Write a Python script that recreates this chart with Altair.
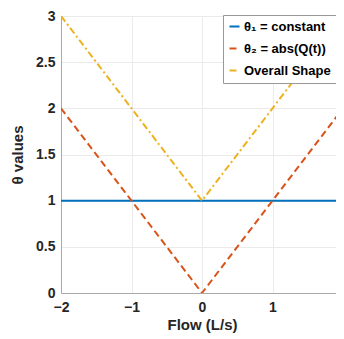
import altair as alt
import pandas as pd

flow = [-2, 0, 2]
theta1 = [1, 1, 1]
theta2 = [2, 0, 2]
overall = [3, 1, 3]
series = ["θ₁ = constant", "θ₂ = abs(Q(t))", "Overall Shape"]
colors = ["#0072BD", "#D95319", "#EDB120"]
dashes = [[1, 0], [7, 4], [7, 3, 2, 3]]

rows = []
for name, vals in zip(series, [theta1, theta2, overall]):
    for x, y in zip(flow, vals):
        rows.append({"Flow": x, "value": y, "series": name})
df = pd.DataFrame(rows)

font = "Liberation Sans"

chart = alt.Chart(df).mark_line(strokeWidth=2, clip=True).encode(
    x=alt.X("Flow:Q", scale=alt.Scale(domain=[-2, 2], nice=False, range=[0, 282]),
            axis=alt.Axis(title="Flow (L/s)", values=[-2, -1, 0, 1, 2], format="d",
                          labelFlush=False, labelPadding=7, titlePadding=3)),
    y=alt.Y("value:Q", scale=alt.Scale(domain=[0, 3], nice=False),
            axis=alt.Axis(title="θ values", values=[0, 0.5, 1, 1.5, 2, 2.5, 3],
                          format="~g", labelFlush=False, labelPadding=6, titlePadding=10)),
    color=alt.Color("series:N", sort=series,
                    scale=alt.Scale(domain=series, range=colors),
                    legend=alt.Legend(title=None, orient="none", legendX=162, legendY=-1,
                                      symbolType="stroke", symbolSize=100,
                                      symbolStrokeWidth=2, labelFontSize=13,
                                      labelFont=font, labelFontWeight="bold",
                                      labelColor="#000000",
                                      strokeColor="#999999", fillColor="white",
                                      padding=5, rowPadding=8, labelOffset=3)),
    strokeDash=alt.StrokeDash("series:N", sort=series,
                              scale=alt.Scale(domain=series, range=dashes),
                              legend=None),
    detail="series:N",
).properties(
    width=275, height=277,
    autosize=alt.AutoSizeParams(type="none"),
    padding={"left": 53, "top": 8, "right": 0, "bottom": 45},
).configure_axis(
    labelFont=font, labelFontWeight="bold", labelFontSize=14, labelColor="#262626",
    titleFont=font, titleFontWeight="bold", titleFontSize=15, titleColor="#262626",
    gridColor="#ebebeb", domainColor="#aaaaaa", tickSize=0,
).configure_view(stroke=None)

chart.save("out.html", embed_options={"renderer": "svg", "actions": False})
